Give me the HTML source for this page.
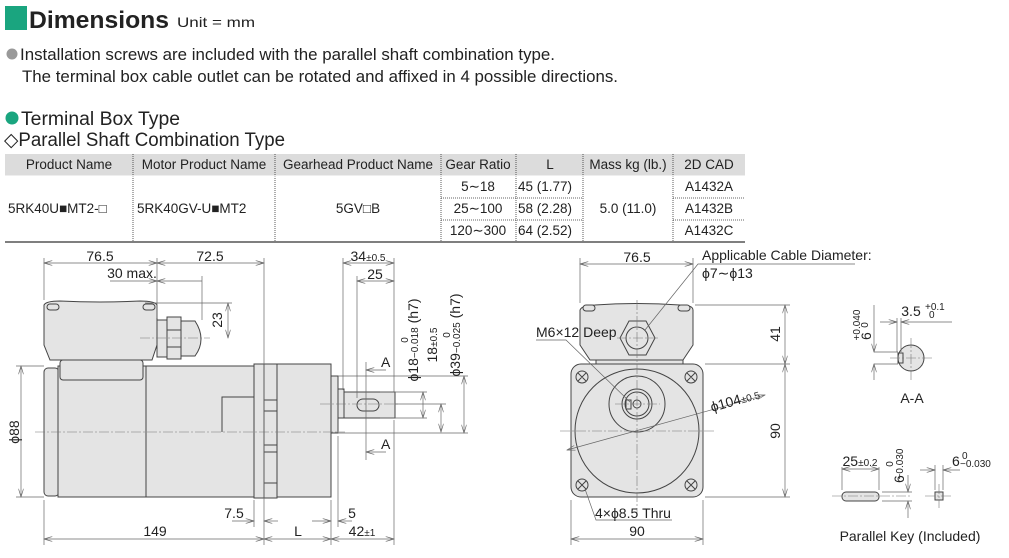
<!DOCTYPE html>
<html><head><meta charset="utf-8"><style>
html,body{margin:0;padding:0;background:#fff;width:1009px;height:558px;overflow:hidden}
svg{display:block}
.t{font-family:"Liberation Sans",sans-serif;fill:#222}
.n{font-family:"Liberation Sans Narrow","Liberation Sans",sans-serif;fill:#222;font-size:14px}
.o{stroke:#444;stroke-width:1;fill:#e4e4e4}
.l{stroke:#444;stroke-width:1;fill:none}
.d{stroke:#666;stroke-width:0.7;fill:none}
.c{stroke:#777;stroke-width:0.6;fill:none;stroke-dasharray:10 2 2 2}
</style></head><body>
<svg width="1009" height="558" viewBox="0 0 1009 558" xmlns="http://www.w3.org/2000/svg">
<defs>
<marker id="a" viewBox="0 0 10 6" refX="10" refY="3" markerWidth="9" markerHeight="5" orient="auto-start-reverse" markerUnits="userSpaceOnUse"><path d="M0,0 L10,3 L0,6" fill="none" stroke="#666" stroke-width="0.8"/></marker>
</defs>
<!-- header -->
<rect x="5" y="6" width="22" height="24" fill="#1aa57f"/>
<text class="t" x="29" y="28" font-size="24" font-weight="bold" textLength="140" lengthAdjust="spacingAndGlyphs">Dimensions</text>
<text class="t" x="177" y="27" font-size="14" textLength="78" lengthAdjust="spacingAndGlyphs">Unit = mm</text>
<circle cx="12" cy="54" r="5.5" fill="#999"/>
<text class="t" x="20" y="60" font-size="16.5" textLength="535" lengthAdjust="spacingAndGlyphs">Installation screws are included with the parallel shaft combination type.</text>
<text class="t" x="22" y="82" font-size="16.5" textLength="596" lengthAdjust="spacingAndGlyphs">The terminal box cable outlet can be rotated and affixed in 4 possible directions.</text>
<circle cx="12" cy="118" r="6.5" fill="#1aa57f"/>
<text class="t" x="21" y="125" font-size="19" textLength="159" lengthAdjust="spacingAndGlyphs">Terminal Box Type</text>
<text class="t" x="4" y="146" font-size="19" textLength="281" lengthAdjust="spacingAndGlyphs">◇Parallel Shaft Combination Type</text>
<!-- table -->
<rect x="5" y="154" width="740" height="22" fill="#dcdcdc"/>
<g stroke="#333" stroke-width="0.8" stroke-dasharray="1 1">
<line x1="133" y1="154" x2="133" y2="242"/><line x1="275" y1="154" x2="275" y2="242"/>
<line x1="441" y1="154" x2="441" y2="242"/><line x1="516" y1="154" x2="516" y2="242"/>
<line x1="583" y1="154" x2="583" y2="242"/><line x1="673" y1="154" x2="673" y2="242"/>
<line x1="441" y1="198" x2="583" y2="198"/><line x1="441" y1="220" x2="583" y2="220"/>
<line x1="673" y1="198" x2="745" y2="198"/><line x1="673" y1="220" x2="745" y2="220"/>
</g>
<line x1="5" y1="176" x2="745" y2="176" stroke="#fff" stroke-width="1"/>
<line x1="5" y1="242" x2="745" y2="242" stroke="#333" stroke-width="1.2"/>
<g class="t" font-size="13.5">
<text x="69" y="169" text-anchor="middle">Product Name</text>
<text x="204" y="169" text-anchor="middle">Motor Product Name</text>
<text x="358" y="169" text-anchor="middle">Gearhead Product Name</text>
<text x="478" y="169" text-anchor="middle">Gear Ratio</text>
<text x="550" y="169" text-anchor="middle">L</text>
<text x="628" y="169" text-anchor="middle">Mass kg (lb.)</text>
<text x="709" y="169" text-anchor="middle">2D CAD</text>
<text x="8" y="213">5RK40U■MT2-□</text>
<text x="137" y="213">5RK40GV-U■MT2</text>
<text x="358" y="213" text-anchor="middle">5GV□B</text>
<text x="478" y="191" text-anchor="middle">5∼18</text>
<text x="478" y="213" text-anchor="middle">25∼100</text>
<text x="478" y="235" text-anchor="middle">120∼300</text>
<text x="518" y="191">45 (1.77)</text>
<text x="518" y="213">58 (2.28)</text>
<text x="518" y="235">64 (2.52)</text>
<text x="628" y="213" text-anchor="middle">5.0 (11.0)</text>
<text x="709" y="191" text-anchor="middle">A1432A</text>
<text x="709" y="213" text-anchor="middle">A1432B</text>
<text x="709" y="235" text-anchor="middle">A1432C</text>
</g>

<!-- LEFT VIEW -->
<path class="o" d="M44,305 Q46,301 60,301 Q100,303 140,301 Q155,301 157,305 L157,345 L152,360 L50,360 L44,345 Z"/>
<rect class="o" x="47" y="304" width="12" height="6" rx="3"/><rect class="o" x="143" y="304" width="12" height="6" rx="3"/>
<rect class="o" x="157" y="320" width="10" height="37"/>
<rect class="o" x="167" y="317" width="14" height="42"/>
<path class="o" d="M181,321 L195,321 Q201,330 201,339 Q201,348 195,356 L181,356 Z"/>
<line class="l" x1="167" y1="330" x2="181" y2="330"/><line class="l" x1="167" y1="347" x2="181" y2="347"/>
<rect class="o" x="44" y="368" width="15" height="128" rx="4"/>
<rect class="o" x="58" y="366" width="196" height="131"/>
<rect class="o" x="60" y="360" width="83" height="20" rx="3"/>
<line class="l" x1="146" y1="366" x2="146" y2="497"/>
<path class="l" d="M222,432 L222,397 L254,397"/>
<rect class="o" x="254" y="364" width="10" height="134"/>
<rect class="o" x="264" y="364" width="13" height="134"/>
<g class="l"><line x1="264" y1="400" x2="277" y2="400"/><line x1="264" y1="411" x2="277" y2="411"/><line x1="264" y1="445" x2="277" y2="445"/><line x1="264" y1="452" x2="277" y2="452"/><line x1="264" y1="483" x2="277" y2="483"/></g>
<rect class="o" x="277" y="364" width="54" height="133"/>
<rect class="o" x="331" y="376" width="7" height="57"/>
<rect class="o" x="338" y="389" width="6" height="29"/>
<rect class="o" x="344" y="392" width="51" height="26"/>
<rect class="l" x="357" y="399" width="22" height="12" rx="6"/>
<line class="c" x1="35" y1="432" x2="345" y2="432"/>
<line class="c" x1="320" y1="404" x2="400" y2="404"/>
<line class="c" x1="140" y1="338" x2="210" y2="338"/>
<!-- left dims -->
<g class="d">
<line x1="44" y1="258" x2="44" y2="300"/><line x1="157" y1="258" x2="157" y2="318"/><line x1="264" y1="258" x2="264" y2="545"/>
<line x1="44" y1="263" x2="157" y2="263" marker-start="url(#a)" marker-end="url(#a)"/>
<line x1="157" y1="263" x2="264" y2="263" marker-start="url(#a)" marker-end="url(#a)"/>
<line x1="110" y1="281" x2="157" y2="281" marker-end="url(#a)"/><line x1="157" y1="281" x2="202" y2="281" marker-start="url(#a)"/>
<line x1="202" y1="276" x2="202" y2="320"/>
<line x1="145" y1="303" x2="232" y2="303"/>
<line x1="228" y1="303" x2="228" y2="338" marker-start="url(#a)" marker-end="url(#a)"/>
<line x1="343" y1="258" x2="343" y2="390"/><line x1="394" y1="258" x2="394" y2="392"/><line x1="357" y1="276" x2="357" y2="398"/>
<line x1="343" y1="263" x2="394" y2="263" marker-start="url(#a)" marker-end="url(#a)"/>
<line x1="357" y1="281" x2="394" y2="281" marker-start="url(#a)" marker-end="url(#a)"/>
<line x1="366" y1="362" x2="366" y2="460"/>
<line x1="366" y1="370" x2="386" y2="370" marker-start="url(#a)"/><line x1="366" y1="452" x2="386" y2="452" marker-start="url(#a)"/>
<line x1="380" y1="392" x2="427" y2="392"/><line x1="380" y1="418" x2="427" y2="418"/>
<line x1="423" y1="392" x2="423" y2="418" marker-start="url(#a)" marker-end="url(#a)"/>
<line x1="395" y1="404" x2="446" y2="404"/>
<line x1="441" y1="404" x2="441" y2="432" marker-start="url(#a)" marker-end="url(#a)"/>
<line x1="338" y1="376" x2="468" y2="376"/><line x1="338" y1="433" x2="468" y2="433"/>
<line x1="464" y1="376" x2="464" y2="433" marker-start="url(#a)" marker-end="url(#a)"/>
<line x1="16" y1="366" x2="44" y2="366"/><line x1="16" y1="497" x2="44" y2="497"/>
<line x1="21" y1="366" x2="21" y2="497" marker-start="url(#a)" marker-end="url(#a)"/>
<line x1="44" y1="500" x2="44" y2="545"/><line x1="254" y1="500" x2="254" y2="527"/><line x1="331" y1="500" x2="331" y2="545"/><line x1="338" y1="436" x2="338" y2="527"/><line x1="394" y1="420" x2="394" y2="545"/>
<line x1="44" y1="539" x2="264" y2="539" marker-start="url(#a)" marker-end="url(#a)"/>
<line x1="264" y1="539" x2="331" y2="539" marker-start="url(#a)" marker-end="url(#a)"/>
<line x1="331" y1="539" x2="394" y2="539" marker-start="url(#a)" marker-end="url(#a)"/>
<line x1="232" y1="521" x2="254" y2="521" marker-end="url(#a)"/><line x1="264" y1="521" x2="278" y2="521" marker-start="url(#a)"/>
<line x1="312" y1="521" x2="331" y2="521" marker-end="url(#a)"/><line x1="338" y1="521" x2="352" y2="521" marker-start="url(#a)"/>
</g>
<g class="n">
<text x="100" y="261" text-anchor="middle">76.5</text>
<text x="210" y="261" text-anchor="middle">72.5</text>
<text x="132" y="278" text-anchor="middle">30 max.</text>
<text x="368" y="261" text-anchor="middle">34<tspan font-size="10">±0.5</tspan></text>
<text x="375" y="279" text-anchor="middle">25</text>
<text transform="translate(222,320) rotate(-90)" text-anchor="middle">23</text>
<text x="381" y="367">A</text><text x="381" y="449">A</text>
<text transform="translate(19,432) rotate(-90)" text-anchor="middle">ϕ88</text>
<text transform="translate(418,340) rotate(-90)" text-anchor="middle">ϕ18<tspan font-size="10">−0.018</tspan> (h7)</text>
<text transform="translate(408,340) rotate(-90)" font-size="10" text-anchor="middle">0</text>
<text transform="translate(437,345) rotate(-90)" text-anchor="middle">18<tspan font-size="10">±0.5</tspan></text>
<text transform="translate(460,335) rotate(-90)" text-anchor="middle">ϕ39<tspan font-size="10">−0.025</tspan> (h7)</text>
<text transform="translate(450,335) rotate(-90)" font-size="10" text-anchor="middle">0</text>
<text x="155" y="536" text-anchor="middle">149</text>
<text x="298" y="536" text-anchor="middle">L</text>
<text x="362" y="536" text-anchor="middle">42<tspan font-size="10">±1</tspan></text>
<text x="234" y="518" text-anchor="middle">7.5</text>
<text x="352" y="518" text-anchor="middle">5</text>
</g>

<!-- MIDDLE VIEW -->
<path class="o" d="M580,310 Q582,305 595,305 Q637,302 680,305 Q693,305 693,310 L693,345 L683,360 L590,360 L580,345 Z"/>
<rect class="o" x="596" y="360" width="87" height="5"/>
<rect class="o" x="583" y="305" width="12" height="6" rx="3"/><rect class="o" x="678" y="305" width="12" height="6" rx="3"/>
<polygon class="o" points="629,321 646,321 655,338 646,355 629,355 620,338"/>
<circle class="o" cx="637" cy="338" r="11"/>
<rect class="o" x="571" y="364" width="132" height="133" rx="10"/>
<circle class="o" cx="637" cy="431" r="62"/>
<circle class="l" cx="637" cy="404" r="28"/>
<circle class="l" cx="637" cy="404" r="15"/>
<circle class="l" cx="637" cy="404" r="12"/>
<circle class="l" cx="637" cy="404" r="4"/>
<rect class="l" x="626" y="400" width="5" height="9"/>
<g class="o"><circle cx="582" cy="377" r="6"/><circle cx="691" cy="377" r="6"/><circle cx="582" cy="485" r="6"/><circle cx="691" cy="485" r="6"/></g>
<g class="l" stroke-width="0.7"><path d="M578,373 L586,381 M578,381 L586,373 M687,373 L695,381 M687,381 L695,373 M578,481 L586,489 M578,489 L586,481 M687,481 L695,489 M687,489 L695,481"/></g>
<line class="c" x1="560" y1="431" x2="715" y2="431"/><line class="c" x1="637" y1="300" x2="637" y2="515"/>
<line class="c" x1="615" y1="404" x2="660" y2="404"/><line class="c" x1="617" y1="338" x2="658" y2="338"/>
<g class="d">
<line x1="580" y1="258" x2="580" y2="303"/><line x1="693" y1="258" x2="693" y2="303"/>
<line x1="580" y1="264" x2="693" y2="264" marker-start="url(#a)" marker-end="url(#a)"/>
<polyline points="645,330 698,264 855,264"/>
<line x1="695" y1="305" x2="790" y2="305"/><line x1="705" y1="364" x2="790" y2="364"/><line x1="705" y1="497" x2="790" y2="497"/>
<line x1="785" y1="305" x2="785" y2="364" marker-start="url(#a)" marker-end="url(#a)"/>
<line x1="785" y1="364" x2="785" y2="497" marker-start="url(#a)" marker-end="url(#a)"/>
<line x1="571" y1="500" x2="571" y2="545"/><line x1="703" y1="500" x2="703" y2="545"/>
<line x1="571" y1="539" x2="703" y2="539" marker-start="url(#a)" marker-end="url(#a)"/>
<polyline points="536,340 566,340 630,402"/>
<line x1="567" y1="450" x2="765" y2="395" marker-start="url(#a)" marker-end="url(#a)"/>
<polyline points="585,489 596,520 672,520"/>
</g>
<g class="n">
<text x="637" y="262" text-anchor="middle">76.5</text>
<text x="702" y="260">Applicable Cable Diameter:</text>
<text x="702" y="278">ϕ7∼ϕ13</text>
<text x="536" y="337">M6×12 Deep</text>
<text transform="translate(712,412) rotate(-16)">ϕ104<tspan font-size="10">±0.5</tspan></text>
<text transform="translate(780,334) rotate(-90)" text-anchor="middle">41</text>
<text transform="translate(780,431) rotate(-90)" text-anchor="middle">90</text>
<text x="595" y="518">4×ϕ8.5 Thru</text>
<text x="637" y="536" text-anchor="middle">90</text>
</g>

<!-- A-A -->
<circle class="o" cx="911" cy="358" r="13"/>
<rect class="l" x="898" y="353" width="5" height="10"/>
<line class="c" x1="890" y1="358" x2="934" y2="358"/><line class="c" x1="911" y1="338" x2="911" y2="380"/>
<g class="d">
<line x1="874" y1="352" x2="898" y2="352"/><line x1="874" y1="364" x2="898" y2="364"/>
<line x1="874" y1="305" x2="874" y2="352" marker-end="url(#a)"/><line x1="874" y1="364" x2="874" y2="380" marker-start="url(#a)"/>
<line x1="897" y1="318" x2="897" y2="352"/><line x1="901" y1="318" x2="901" y2="352"/>
<line x1="880" y1="322" x2="897" y2="322" marker-end="url(#a)"/><line x1="901" y1="322" x2="952" y2="322" marker-start="url(#a)"/>
</g>
<g class="n">
<text x="911" y="316" text-anchor="middle">3.5</text>
<text x="925" y="310" font-size="10">+0.1</text><text x="929" y="318" font-size="10">0</text>
<text transform="translate(871,340) rotate(-90)">6</text>
<text transform="translate(860,325) rotate(-90)" font-size="10" text-anchor="middle">+0.040</text>
<text transform="translate(868,325) rotate(-90)" font-size="10" text-anchor="middle">0</text>
<text x="912" y="403" text-anchor="middle">A-A</text>
</g>
<!-- parallel key -->
<rect class="o" x="842" y="492" width="37" height="9" rx="4"/>
<rect class="o" x="935" y="492" width="8" height="8"/>
<line class="c" x1="832" y1="496" x2="910" y2="496"/><line class="c" x1="925" y1="496" x2="953" y2="496"/><line class="c" x1="939" y1="484" x2="939" y2="508"/>
<g class="d">
<line x1="842" y1="467" x2="842" y2="490"/><line x1="879" y1="467" x2="879" y2="490"/>
<line x1="842" y1="469" x2="879" y2="469" marker-start="url(#a)" marker-end="url(#a)"/>
<line x1="882" y1="492" x2="912" y2="492"/><line x1="882" y1="501" x2="912" y2="501"/>
<line x1="908" y1="475" x2="908" y2="492" marker-end="url(#a)"/><line x1="908" y1="501" x2="908" y2="518" marker-start="url(#a)"/>
<line x1="935" y1="465" x2="935" y2="490"/><line x1="943" y1="465" x2="943" y2="490"/>
<line x1="920" y1="470" x2="935" y2="470" marker-end="url(#a)"/><line x1="943" y1="470" x2="960" y2="470" marker-start="url(#a)"/>
</g>
<g class="n">
<text x="860" y="466" text-anchor="middle">25<tspan font-size="10">±0.2</tspan></text>
<text transform="translate(904,483) rotate(-90)">6</text>
<text transform="translate(893,464) rotate(-90)" font-size="10" text-anchor="middle">0</text>
<text transform="translate(903,464) rotate(-90)" font-size="10" text-anchor="middle">−0.030</text>
<text x="952" y="466">6</text><text x="962" y="459" font-size="10">0</text><text x="960" y="467" font-size="10">−0.030</text>
<text x="910" y="541" text-anchor="middle">Parallel Key (Included)</text>
</g>
</svg>
</body></html>
